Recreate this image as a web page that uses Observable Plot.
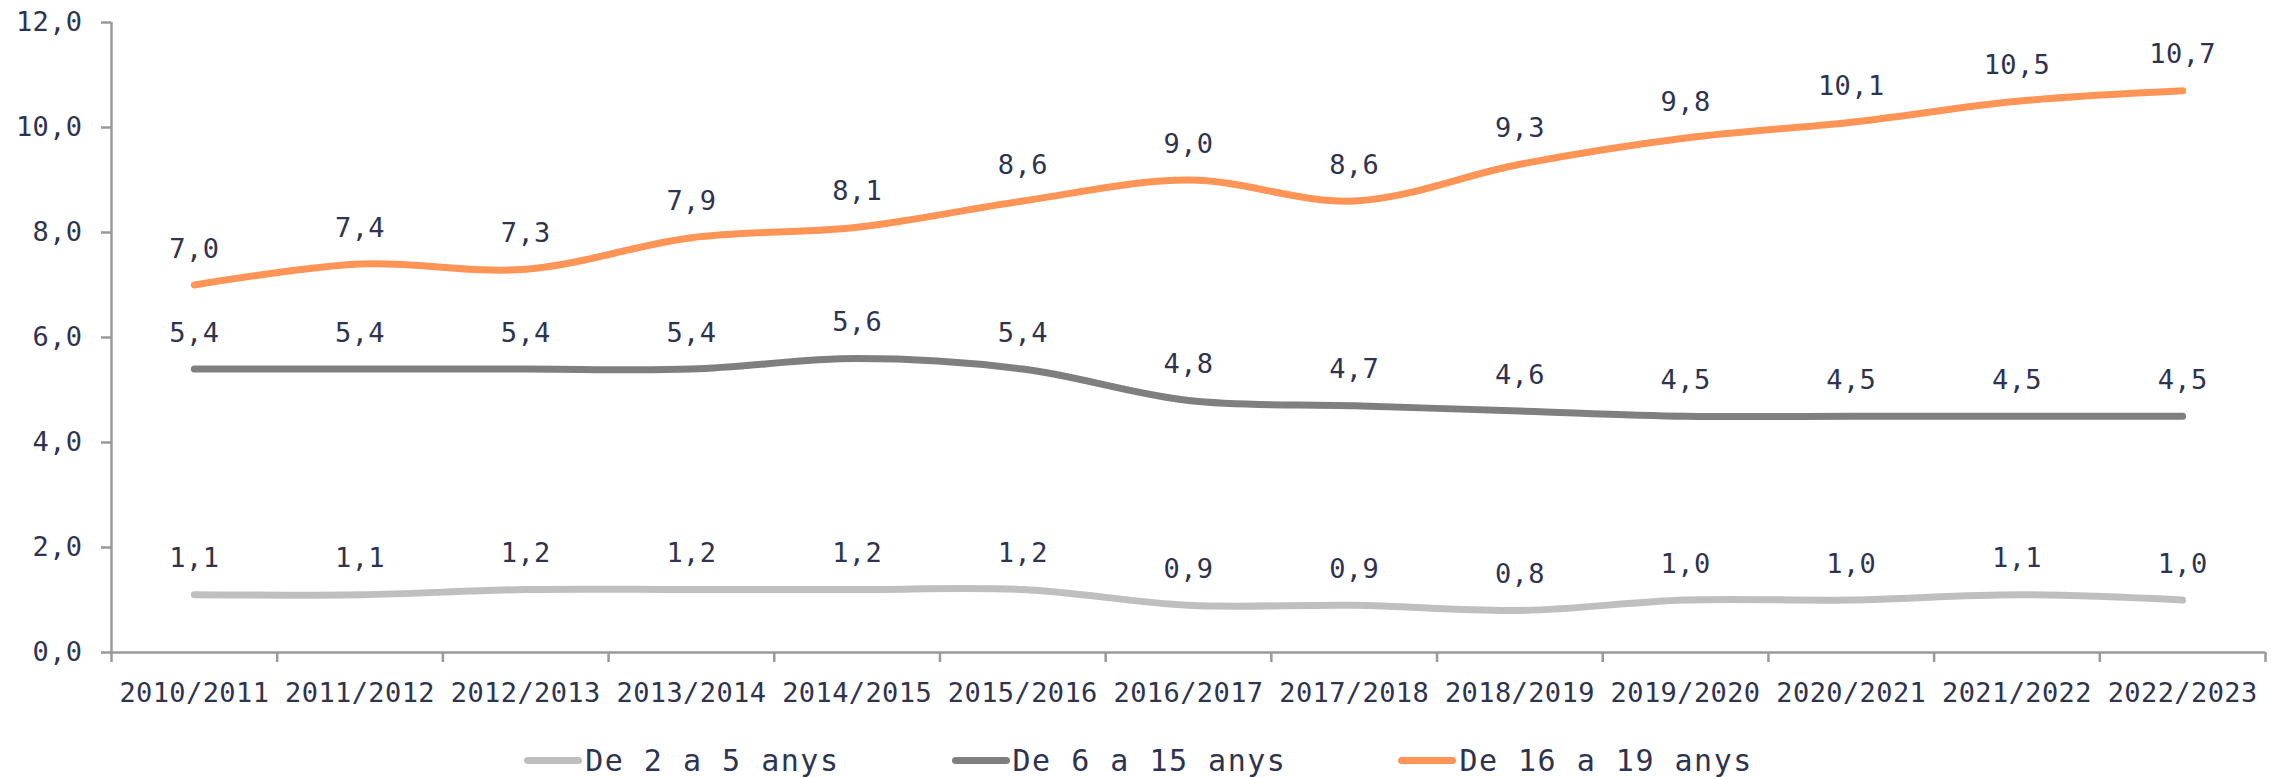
<!DOCTYPE html>
<html>
<head>
<meta charset="utf-8">
<script src="https://cdn.jsdelivr.net/npm/d3@7"></script>
<script src="https://cdn.jsdelivr.net/npm/@observablehq/plot@0.6"></script>
<style>
  html, body { margin: 0; padding: 0; background: #fff; }
  #chart svg { display: block; }
  .legend { display: flex; justify-content: center; align-items: center; gap: 112px; margin-top: 20px; height: 40px;
    font-family: "DejaVu Sans Mono", "Liberation Mono", monospace; font-size: 30px; letter-spacing: 1.5px; color: #2e3350; }
  .legend .item { display: flex; align-items: center; }
  .legend .sw { width: 58px; height: 7px; border-radius: 4px; margin-right: 3px; }
</style>
</head>
<body>
<div id="chart"></div>
<script>
const seasons = ["2010/2011","2011/2012","2012/2013","2013/2014","2014/2015","2015/2016","2016/2017","2017/2018","2018/2019","2019/2020","2020/2021","2021/2022","2022/2023"];
const seriesNames = ["De 2 a 5 anys", "De 6 a 15 anys", "De 16 a 19 anys"];
const seriesColors = ["#bfbfbf", "#7f7f7f", "#ff9457"];
const age2to5 = [1.1,1.1,1.2,1.2,1.2,1.2,0.9,0.9,0.8,1.0,1.0,1.1,1.0];
const age6to15 = [5.4,5.4,5.4,5.4,5.6,5.4,4.8,4.7,4.6,4.5,4.5,4.5,4.5];
const age16to19 = [7.0,7.4,7.3,7.9,8.1,8.6,9.0,8.6,9.3,9.8,10.1,10.5,10.7];
const yTicks = [0,2,4,6,8,10,12];

const seriesValues = [age2to5, age6to15, age16to19];
const data = [];
seriesValues.forEach((vals, s) => vals.forEach((v, i) => data.push({series: seriesNames[s], i: i + 0.5, season: seasons[i], value: v})));
const boundaries = d3.range(seasons.length + 1);
const centers = seasons.map((_, i) => i + 0.5);

const fmt = d => d.toFixed(1).replace(".", ",");
const font = "'DejaVu Sans Mono', 'Liberation Mono', monospace";
const textColor = "#2e3350";
const axisColor = "#999999";

const chart = Plot.plot({
  width: 2277,
  height: 720,
  marginLeft: 111,
  marginRight: 12,
  marginTop: 22,
  marginBottom: 68,
  style: {fontFamily: font, fontSize: "27px", color: textColor, background: "#fff", letterSpacing: "0.4px"},
  x: {domain: [0, seasons.length]},
  y: {domain: [0, 12]},
  color: {domain: seriesNames, range: seriesColors},
  marks: [
    Plot.ruleY([0], {stroke: axisColor, strokeWidth: 2.5}),
    Plot.ruleX([0], {stroke: axisColor, strokeWidth: 2.5}),
    Plot.axisY({ticks: yTicks, tickFormat: fmt, tickSize: 10, tickPadding: 19, stroke: axisColor, strokeWidth: 2.5, strokeOpacity: 1, fill: textColor, label: null}),
    Plot.axisX({ticks: boundaries, tickFormat: () => "", tickSize: 10, stroke: axisColor, strokeWidth: 2.5, strokeOpacity: 1, label: null}),
    Plot.axisX({ticks: centers, tickFormat: d => seasons[Math.floor(d)], tickSize: 0, tickPadding: 30, fill: textColor, label: null}),
    Plot.line(data, {x: "i", y: "value", z: "series", stroke: "series", strokeWidth: 7, curve: "catmull-rom", strokeLinecap: "round"}),
    Plot.text(data, {x: "i", y: "value", text: d => fmt(d.value), dy: -36, fill: textColor, fontSize: 27})
  ]
});
document.getElementById("chart").appendChild(chart);

const legend = document.createElement("div");
legend.className = "legend";
seriesNames.forEach((n, k) => {
  const it = document.createElement("div");
  it.className = "item";
  const sw = document.createElement("span");
  sw.className = "sw";
  sw.style.background = seriesColors[k];
  const t = document.createElement("span");
  t.textContent = n;
  it.appendChild(sw); it.appendChild(t);
  legend.appendChild(it);
});
document.body.appendChild(legend);
</script>
</body>
</html>
